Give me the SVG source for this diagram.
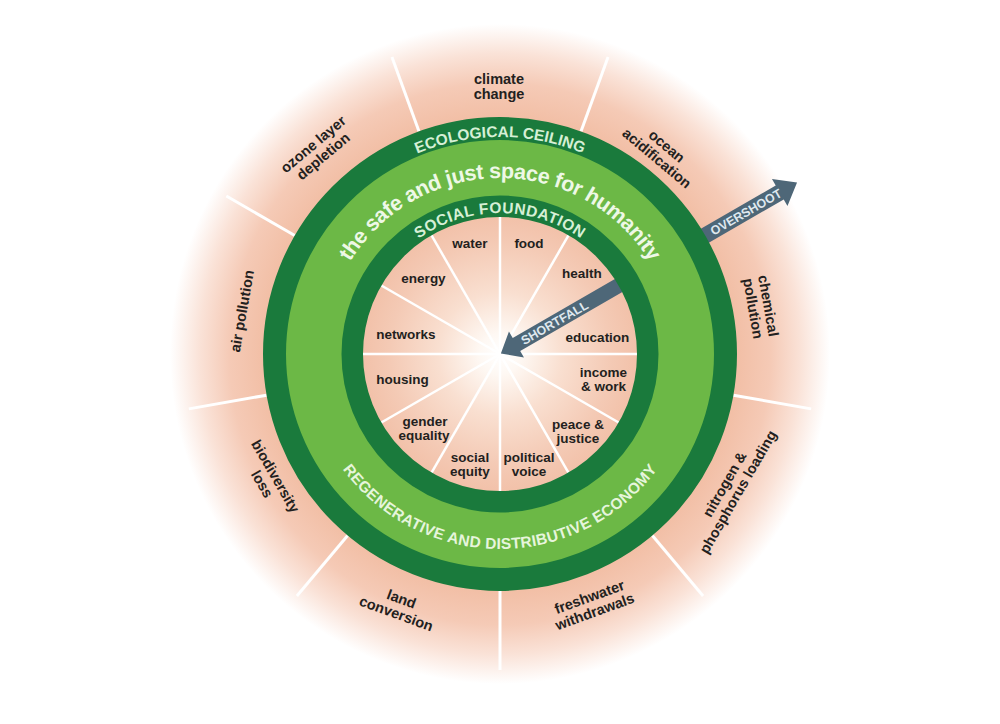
<svg xmlns="http://www.w3.org/2000/svg" xmlns:xlink="http://www.w3.org/1999/xlink" width="1000" height="724" viewBox="0 0 1000 724">
<style>
.lab{font-family:"Liberation Sans",Arial,sans-serif;font-weight:bold;fill:#231f20;text-anchor:middle}
.out{font-size:14.5px}
.inn{font-size:13.5px}
.ring{font-family:"Liberation Sans",Arial,sans-serif;font-weight:bold;text-anchor:middle}
.arrowTxt{font-family:"Liberation Sans",Arial,sans-serif;font-weight:bold;font-size:12.5px;fill:#dfe8ef;text-anchor:middle}
.ospoke{stroke:#ffffff;stroke-width:3}
.ispoke{stroke:#ffffff;stroke-width:2.5}
</style>
<defs>
<radialGradient id="outerGlow" gradientUnits="userSpaceOnUse" cx="500" cy="354" r="330">
<stop offset="0" stop-color="#f2bfa6"/>
<stop offset="0.72" stop-color="#f2bfa6"/>
<stop offset="0.82" stop-color="#f5cab6"/>
<stop offset="0.91" stop-color="#fae2d7"/>
<stop offset="1" stop-color="#ffffff"/>
</radialGradient>
<radialGradient id="innerGlow" gradientUnits="userSpaceOnUse" cx="500" cy="354" r="138">
<stop offset="0" stop-color="#ffffff"/>
<stop offset="0.15" stop-color="#fef8f3"/>
<stop offset="0.45" stop-color="#f9dfd0"/>
<stop offset="0.8" stop-color="#f4cab5"/>
<stop offset="1" stop-color="#f2c1a9"/>
</radialGradient>
<path id="pEco" d="M 283,354 A 217 217 0 0 1 717,354"/>
<path id="pSafe" d="M 324,354 A 176 176 0 0 1 676,354"/>
<path id="pSoc" d="M 359,354 A 141 141 0 0 1 641,354"/>
<path id="pReg" d="M 305,354 A 195 195 0 0 0 695,354"/>
<line id="os" class="ospoke" x1="500" y1="117" x2="500" y2="38"/>
<line id="is" class="ispoke" x1="500" y1="354" x2="500" y2="216"/>
</defs>
<rect width="1000" height="724" fill="#ffffff"/>

<g id="outer-zone">
<circle cx="500" cy="354" r="330" fill="url(#outerGlow)"/>
<g id="outer-spokes">
<use xlink:href="#os" transform="rotate(20 500 354)"/>
<use xlink:href="#os" transform="rotate(60 500 354)"/>
<use xlink:href="#os" transform="rotate(100 500 354)"/>
<use xlink:href="#os" transform="rotate(140 500 354)"/>
<use xlink:href="#os" transform="rotate(180 500 354)"/>
<use xlink:href="#os" transform="rotate(220 500 354)"/>
<use xlink:href="#os" transform="rotate(260 500 354)"/>
<use xlink:href="#os" transform="rotate(300 500 354)"/>
<use xlink:href="#os" transform="rotate(340 500 354)"/>
</g>
</g>

<g id="safe-space">
<circle cx="500" cy="354" r="236" fill="#6cb846"/>
</g>

<g id="social-zone">
<circle cx="500" cy="354" r="140" fill="url(#innerGlow)"/>
<g id="inner-spokes">
<use xlink:href="#is"/>
<use xlink:href="#is" transform="rotate(30 500 354)"/>
<use xlink:href="#is" transform="rotate(60 500 354)"/>
<use xlink:href="#is" transform="rotate(90 500 354)"/>
<use xlink:href="#is" transform="rotate(120 500 354)"/>
<use xlink:href="#is" transform="rotate(150 500 354)"/>
<use xlink:href="#is" transform="rotate(180 500 354)"/>
<use xlink:href="#is" transform="rotate(210 500 354)"/>
<use xlink:href="#is" transform="rotate(240 500 354)"/>
<use xlink:href="#is" transform="rotate(270 500 354)"/>
<use xlink:href="#is" transform="rotate(300 500 354)"/>
<use xlink:href="#is" transform="rotate(330 500 354)"/>
</g>
</g>

<g id="connectors">
<g id="shortfall" transform="translate(500 354) rotate(-30)">
<polygon points="146,-7.5 19,-7.5 19,-15 1,0 19,15 19,7.5 146,7.5" fill="#4e6778"/>
<text class="arrowTxt" x="63" y="4.5">SHORTFALL</text>
</g>
<g id="overshoot" transform="translate(500 354) rotate(-30)">
<polygon points="230,-8 323,-8 323,-15.5 343,0 323,15.5 323,8 230,8" fill="#4e6778"/>
<text class="arrowTxt" x="284" y="4.5">OVERSHOOT</text>
</g>
</g>

<g id="ecological-ceiling">
<circle cx="500" cy="354" r="225.5" fill="none" stroke="#1a7a3c" stroke-width="23"/>
<text class="ring" font-size="15.5" fill="#d6f0d6"><textPath xlink:href="#pEco" startOffset="50%">ECOLOGICAL CEILING</textPath></text>
</g>

<g id="social-foundation">
<circle cx="500" cy="354" r="147.75" fill="none" stroke="#1a7a3c" stroke-width="21.5"/>
<text class="ring" font-size="15.5" letter-spacing="0.5" fill="#d6f0d6"><textPath xlink:href="#pSoc" startOffset="50%">SOCIAL FOUNDATION</textPath></text>
</g>

<g id="safe-space-labels">
<text class="ring" font-size="21.5" letter-spacing="-0.4" fill="#eef8e6"><textPath xlink:href="#pSafe" startOffset="50%">the safe and just space for humanity</textPath></text>
<text class="ring" font-size="15.5" letter-spacing="0.3" fill="#e6f5dc"><textPath xlink:href="#pReg" startOffset="50%">REGENERATIVE AND DISTRIBUTIVE ECONOMY</textPath></text>
</g>

<g id="boundary-climate-change" transform="translate(499 86)"><text class="lab out" y="-2.5">climate</text><text class="lab out" y="13">change</text></g>
<g id="boundary-ocean-acidification" transform="translate(662 152) rotate(40)"><text class="lab out" y="-2.5">ocean</text><text class="lab out" y="13">acidification</text></g>
<g id="boundary-chemical-pollution" transform="translate(761 307) rotate(80)"><text class="lab out" y="-2.5">chemical</text><text class="lab out" y="13">pollution</text></g>
<g id="boundary-nitrogen-phosphorus" transform="translate(731 488) rotate(-60)"><text class="lab out" y="-2.5">nitrogen &amp;</text><text class="lab out" y="13">phosphorus loading</text></g>
<g id="boundary-freshwater" transform="translate(592 604) rotate(-20)"><text class="lab out" y="-2.5">freshwater</text><text class="lab out" y="13">withdrawals</text></g>
<g id="boundary-land-conversion" transform="translate(399 606) rotate(20)"><text class="lab out" y="-2.5">land</text><text class="lab out" y="13">conversion</text></g>
<g id="boundary-biodiversity" transform="translate(269 480) rotate(60)"><text class="lab out" y="-2.5">biodiversity</text><text class="lab out" y="13">loss</text></g>
<g id="boundary-air-pollution" transform="translate(242 311) rotate(-80)"><text class="lab out" y="5">air pollution</text></g>
<g id="boundary-ozone" transform="translate(318 150) rotate(-40)"><text class="lab out" y="-2.5">ozone layer</text><text class="lab out" y="13">depletion</text></g>

<g id="need-water"><text class="lab inn" x="470" y="248">water</text></g>
<g id="need-food"><text class="lab inn" x="529" y="248">food</text></g>
<g id="need-health"><text class="lab inn" x="582" y="278">health</text></g>
<g id="need-education"><text class="lab inn" x="597.5" y="342">education</text></g>
<g id="need-income"><text class="lab inn" x="603.5" y="377">income</text><text class="lab inn" x="603.5" y="391">&amp; work</text></g>
<g id="need-peace"><text class="lab inn" x="578" y="429">peace &amp;</text><text class="lab inn" x="578" y="443">justice</text></g>
<g id="need-political-voice"><text class="lab inn" x="529" y="462">political</text><text class="lab inn" x="529" y="476">voice</text></g>
<g id="need-social-equity"><text class="lab inn" x="470" y="462">social</text><text class="lab inn" x="470" y="476">equity</text></g>
<g id="need-gender-equality"><text class="lab inn" x="425" y="426">gender</text><text class="lab inn" x="424" y="440">equality</text></g>
<g id="need-housing"><text class="lab inn" x="402.5" y="384">housing</text></g>
<g id="need-networks"><text class="lab inn" x="406" y="339">networks</text></g>
<g id="need-energy"><text class="lab inn" x="423.5" y="283">energy</text></g>
</svg>
